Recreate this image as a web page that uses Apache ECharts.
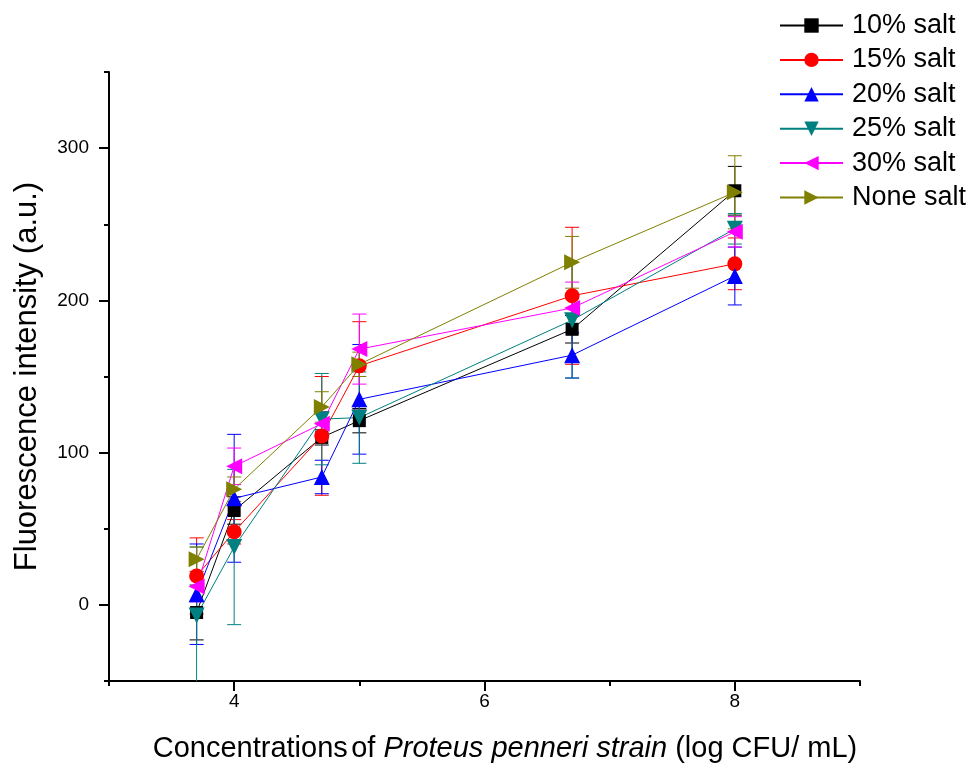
<!DOCTYPE html>
<html>
<head>
<meta charset="utf-8">
<script src="https://cdn.jsdelivr.net/npm/echarts@6/dist/echarts.min.js"></script>
<style>
  html, body { margin: 0; padding: 0; background: #fff; }
  #chart { width: 976px; height: 772px; }
</style>
</head>
<body>
<div id="chart"></div>
<script>
// Bacterial concentration (log CFU/mL) on the x axis
const concentrations = [3.7, 4, 4.7, 5, 6.7, 8];

const seriesNames = ['10% salt', '15% salt', '20% salt', '25% salt', '30% salt', 'None salt'];

// Mean fluorescence intensity (a.u.) and its standard deviation per salt level
const salt10 = [-5, 62, 110, 121, 181, 272];
const salt10Err = [18, 9, 5, 8, 9, 16];
const salt15 = [19, 48, 111, 157, 203, 224];
const salt15Err = [25, 8, 39, 29, 45, 17];
const salt20 = [7, 70, 84, 135, 164, 216];
const salt20Err = [33, 42, 11, 36, 15, 19];
const salt25 = [-7, 38, 122, 123, 187, 247];
const salt25Err = [45, 51, 30, 30, 38, 10];
const salt30 = [12, 91, 119, 168, 195, 245];
const salt30Err = [10, 12, 8, 23, 17, 10];
const saltNone = [30, 76, 130, 158, 225, 271];
const saltNoneErr = [8, 8, 10, 8, 17, 24];

// Axis tick labels
const xTickLabels = [4, 6, 8];
const yTickLabels = [0, 100, 200, 300];

const FONT = 'Arial, "Liberation Sans", sans-serif';

const groups = [
  { name: seriesNames[0], vals: salt10, errs: salt10Err, color: '#000000', symbol: 'rect', size: 13, rotate: 0 },
  { name: seriesNames[1], vals: salt15, errs: salt15Err, color: '#ff0000', symbol: 'circle', size: 15, rotate: 0 },
  { name: seriesNames[2], vals: salt20, errs: salt20Err, color: '#0000ff', symbol: 'triangle', size: 16, rotate: 0 },
  { name: seriesNames[3], vals: salt25, errs: salt25Err, color: '#008080', symbol: 'triangle', size: 16, rotate: 180 },
  { name: seriesNames[4], vals: salt30, errs: salt30Err, color: '#ff00ff', symbol: 'triangle', size: 16, rotate: 90 },
  { name: seriesNames[5], vals: saltNone, errs: saltNoneErr, color: '#808000', symbol: 'triangle', size: 16, rotate: -90 }
];

function errorBarSeries(g) {
  return {
    type: 'custom',
    name: g.name + ' SD',
    z: 1,
    clip: true,
    silent: true,
    encode: { x: 0, y: [1, 2] },
    data: concentrations.map((x, i) => [x, g.vals[i] - g.errs[i], g.vals[i] + g.errs[i]]),
    renderItem(params, api) {
      const x = api.value(0);
      const lo = api.coord([x, api.value(1)]);
      const hi = api.coord([x, api.value(2)]);
      const w = 7;
      const style = { stroke: g.color, lineWidth: 1, fill: null };
      return {
        type: 'group',
        children: [
          { type: 'line', shape: { x1: lo[0], y1: lo[1], x2: hi[0], y2: hi[1] }, style },
          { type: 'line', shape: { x1: lo[0] - w, y1: lo[1], x2: lo[0] + w, y2: lo[1] }, style },
          { type: 'line', shape: { x1: hi[0] - w, y1: hi[1], x2: hi[0] + w, y2: hi[1] }, style }
        ]
      };
    }
  };
}

function lineSeries(g) {
  return {
    type: 'line',
    name: g.name,
    z: 2,
    data: concentrations.map((x, i) => [x, g.vals[i]]),
    symbol: g.symbol,
    symbolSize: g.size,
    symbolRotate: g.rotate,
    showAllSymbol: true,
    color: g.color,
    lineStyle: { color: g.color, width: 1 },
    itemStyle: { color: g.color, borderWidth: 0 },
    emphasis: { disabled: true },
    animation: false
  };
}

const axisLineStyle = { color: '#000', width: 2 };

// Tick labels drawn through a rich style so their size is explicit
function tickLabel(values, margin) {
  return {
    customValues: values,
    margin: margin,
    color: '#000',
    fontSize: 19,
    fontFamily: FONT,
    formatter: v => '{t|' + v + '}',
    rich: { t: { fontSize: 19, fontFamily: FONT, color: '#000' } }
  };
}

const option = {
  backgroundColor: '#ffffff',
  animation: false,
  grid: { left: 109, right: 116, top: 72, bottom: 91, containLabel: false },
  legend: {
    orient: 'vertical',
    left: 779,
    top: 12,
    padding: 0,
    itemWidth: 63,
    itemHeight: 18,
    itemGap: 7.4,
    data: seriesNames,
    textStyle: { fontSize: 27, color: '#000', fontFamily: FONT, padding: [0, 0, 0, 4] }
  },
  xAxis: [
    {
      // long ticks with the labels
      type: 'value',
      min: 3, max: 9,
      axisLine: { onZero: false, lineStyle: axisLineStyle },
      axisTick: { customValues: xTickLabels, length: 10, lineStyle: axisLineStyle },
      axisLabel: tickLabel(xTickLabels, 11),
      splitLine: { show: false },
      name: '{a|Concentrations} {b|of }{c|Proteus penneri strain}{b| (log CFU/ mL)}',
      nameLocation: 'middle',
      nameGap: 53,
      nameTextStyle: {
        padding: [0, 0, 0, 41],
        rich: {
          a: { fontSize: 29, fontFamily: FONT, color: '#000' },
          b: { fontSize: 29, fontFamily: FONT, color: '#000' },
          c: { fontSize: 29, fontFamily: FONT, color: '#000', fontStyle: 'italic' }
        }
      }
    },
    {
      // short ticks in between
      type: 'value',
      min: 3, max: 9, interval: 1,
      position: 'bottom',
      axisLine: { show: false, onZero: false },
      axisTick: { length: 5, lineStyle: axisLineStyle },
      axisLabel: { show: false },
      splitLine: { show: false }
    }
  ],
  yAxis: [
    {
      type: 'value',
      min: -50, max: 350,
      axisLine: { show: true, onZero: false, lineStyle: axisLineStyle },
      axisTick: { show: true, customValues: yTickLabels, length: 10, lineStyle: axisLineStyle },
      axisLabel: tickLabel(yTickLabels, 20),
      splitLine: { show: false },
      name: 'Fluorescence intensity (a.u.)',
      nameLocation: 'middle',
      nameGap: 66,
      nameTextStyle: { fontSize: 31, fontFamily: FONT, color: '#000' }
    },
    {
      type: 'value',
      min: -50, max: 350, interval: 50,
      position: 'left',
      axisLine: { show: false, onZero: false },
      axisTick: { show: true, length: 5, lineStyle: axisLineStyle },
      axisLabel: { show: false },
      splitLine: { show: false }
    }
  ],
  series: groups.map(errorBarSeries).concat(groups.map(lineSeries))
};

const chart = echarts.init(document.getElementById('chart'), null, { renderer: 'canvas' });
chart.setOption(option);
</script>
</body>
</html>
